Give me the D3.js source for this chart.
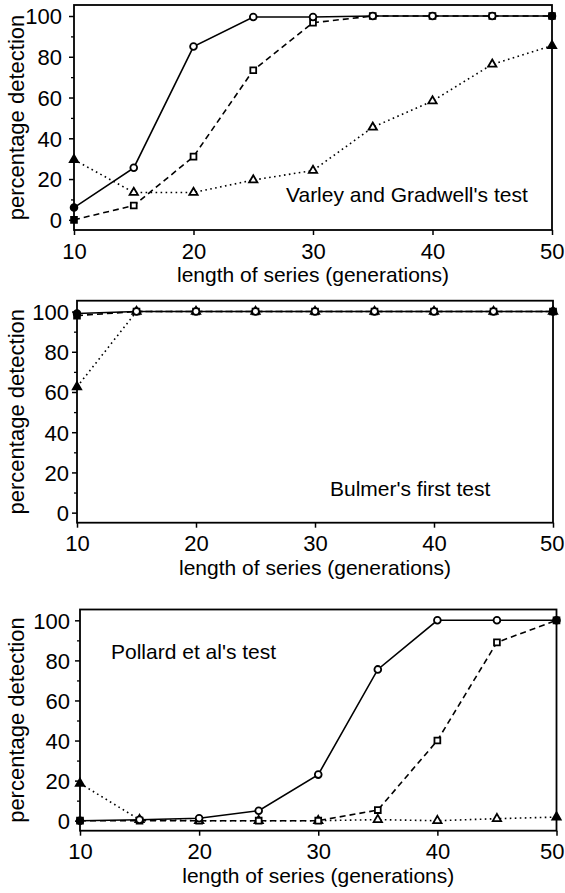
<!DOCTYPE html>
<html>
<head>
<meta charset="utf-8">
<script src="https://cdn.jsdelivr.net/npm/d3@7"></script>
<style>
  body { margin: 0; background: #fff; }
  text { font-family: "Liberation Sans", Arial, Helvetica, sans-serif; fill: #000; }
</style>
</head>
<body>
<div id="chart"></div>
<script>
// generations on the x axis
const generations = [10, 15, 20, 25, 30, 35, 40, 45, 50];
const xTicks = [10, 20, 30, 40, 50];
const yTicks = [0, 20, 40, 60, 80, 100];
const yMinorTicks = [10, 30, 50, 70, 90];

// Varley and Gradwell's test
const varleyCircle   = [6, 25.5, 85, 99.5, 99.5, 100, 100, 100, 100];
const varleySquare   = [0, 7, 31, 73.4, 96.7, 100, 100, 100, 100];
const varleyTriangle = [29.5, 13.4, 13.4, 19.5, 24.2, 45.4, 58.3, 76.3, 85.4];

// Bulmer's first test
const bulmerCircle   = [99, 100, 100, 100, 100, 100, 100, 100, 100];
const bulmerSquare   = [98, 100, 100, 100, 100, 100, 100, 100, 100];
const bulmerTriangle = [62.5, 100, 100, 100, 100, 100, 100, 100, 100];

// Pollard et al's test
const pollardCircle   = [0, 0.5, 1.2, 5, 23, 75.5, 100, 100, 100];
const pollardSquare   = [0, 0, 0, 0, 0, 5.3, 40, 89, 100];
const pollardTriangle = [18.6, 0.5, 0, 0, 0, 0.5, 0, 1, 1.8];

const panels = [
  {label: "Varley and Gradwell's test", labelX: 286, labelY: 202,
   left: 74, right: 552, top: 5, bottom: 230, pad: 7,
   circle: varleyCircle, square: varleySquare, triangle: varleyTriangle},
  {label: "Bulmer's first test", labelX: 330, labelY: 496,
   left: 77, right: 553, top: 300.7, bottom: 522.7, pad: 3,
   circle: bulmerCircle, square: bulmerSquare, triangle: bulmerTriangle},
  {label: "Pollard et al's test", labelX: 111, labelY: 659,
   left: 80, right: 556.5, top: 609.5, bottom: 830.7, pad: 5,
   circle: pollardCircle, square: pollardSquare, triangle: pollardTriangle}
];

const width = 565, height = 893;

const svg = d3.select("#chart").append("svg")
    .attr("width", width)
    .attr("height", height);

panels.forEach(drawPanel);

function drawPanel(p) {
    const x = d3.scaleLinear()
        .domain([10, 50])
        .range([p.left, p.right]);

    // frame runs from about -5 to 105.4 on the value scale
    const y = d3.scaleLinear()
        .domain([-5, 105.4])
        .range([p.bottom, p.top]);

    const g = svg.append("g");

    // y axis, major + minor
    const yAxis = g.append("g")
        .attr("transform", `translate(${p.left},0)`)
        .call(d3.axisLeft(y).tickValues(yTicks).tickSize(5).tickPadding(p.pad));
    yAxis.select(".domain").remove();
    yAxis.selectAll("text").style("font-size", "22px").attr("dy", "0.36em");
    yAxis.selectAll("line").attr("stroke-width", 1.5);

    const yMinor = g.append("g")
        .attr("transform", `translate(${p.left},0)`)
        .call(d3.axisLeft(y).tickValues(yMinorTicks).tickSize(3).tickFormat(""));
    yMinor.select(".domain").remove();
    yMinor.selectAll("line").attr("stroke-width", 1.3);

    // x axis
    const xAxis = g.append("g")
        .attr("transform", `translate(0,${p.bottom})`)
        .call(d3.axisBottom(x).tickValues(xTicks).tickSize(5).tickPadding(8));
    xAxis.select(".domain").remove();
    xAxis.selectAll("text").style("font-size", "22px").attr("dy", "0.71em");
    xAxis.selectAll("line").attr("stroke-width", 1.5);

    // keep the last label inside the page
    xAxis.selectAll("text").each(function(d) {
        const w = this.getComputedTextLength();
        const over = x(d) + w / 2 - (width - 1);
        if (over > 0) d3.select(this).attr("dx", -over);
    });

    // frame
    g.append("rect")
        .attr("x", p.left)
        .attr("y", p.top)
        .attr("width", p.right - p.left)
        .attr("height", p.bottom - p.top)
        .attr("fill", "none")
        .attr("stroke", "#000")
        .attr("stroke-width", 1.8);

    // axis titles
    g.append("text")
        .attr("x", (p.left + p.right) / 2)
        .attr("y", p.bottom + 52)
        .attr("text-anchor", "middle")
        .style("font-size", "21px")
        .text("length of series (generations)");

    g.append("text")
        .attr("transform", `translate(24,${(p.top + p.bottom) / 2}) rotate(-90)`)
        .attr("text-anchor", "middle")
        .style("font-size", "22px")
        .text("percentage detection");

    // test name
    g.append("text")
        .attr("x", p.labelX)
        .attr("y", p.labelY)
        .style("font-size", "21px")
        .text(p.label);

    const series = [
        {values: p.triangle, dash: "1.6,3.4", shape: d3.symbolTriangle, size: 30},
        {values: p.square, dash: "6,4", shape: d3.symbolSquare, size: 34},
        {values: p.circle, dash: null, shape: d3.symbolCircle, size: 36}
    ];

    const line = d3.line()
        .x((d, i) => x(generations[i]))
        .y(d => y(d));

    series.forEach(s => {
        g.append("path")
            .datum(s.values)
            .attr("fill", "none")
            .attr("stroke", "#000")
            .attr("stroke-width", 1.6)
            .attr("stroke-dasharray", s.dash)
            .attr("d", line);

        g.selectAll(null)
            .data(s.values)
            .enter().append("path")
            .attr("transform", (d, i) => `translate(${x(generations[i])},${y(d)})`)
            .attr("d", d3.symbol().type(s.shape).size(s.size))
            .attr("fill", (d, i) => (generations[i] === 10 || generations[i] === 50) ? "#000" : "#fff")
            .attr("stroke", "#000")
            .attr("stroke-width", 1.8);
    });
}
</script>
</body>
</html>
